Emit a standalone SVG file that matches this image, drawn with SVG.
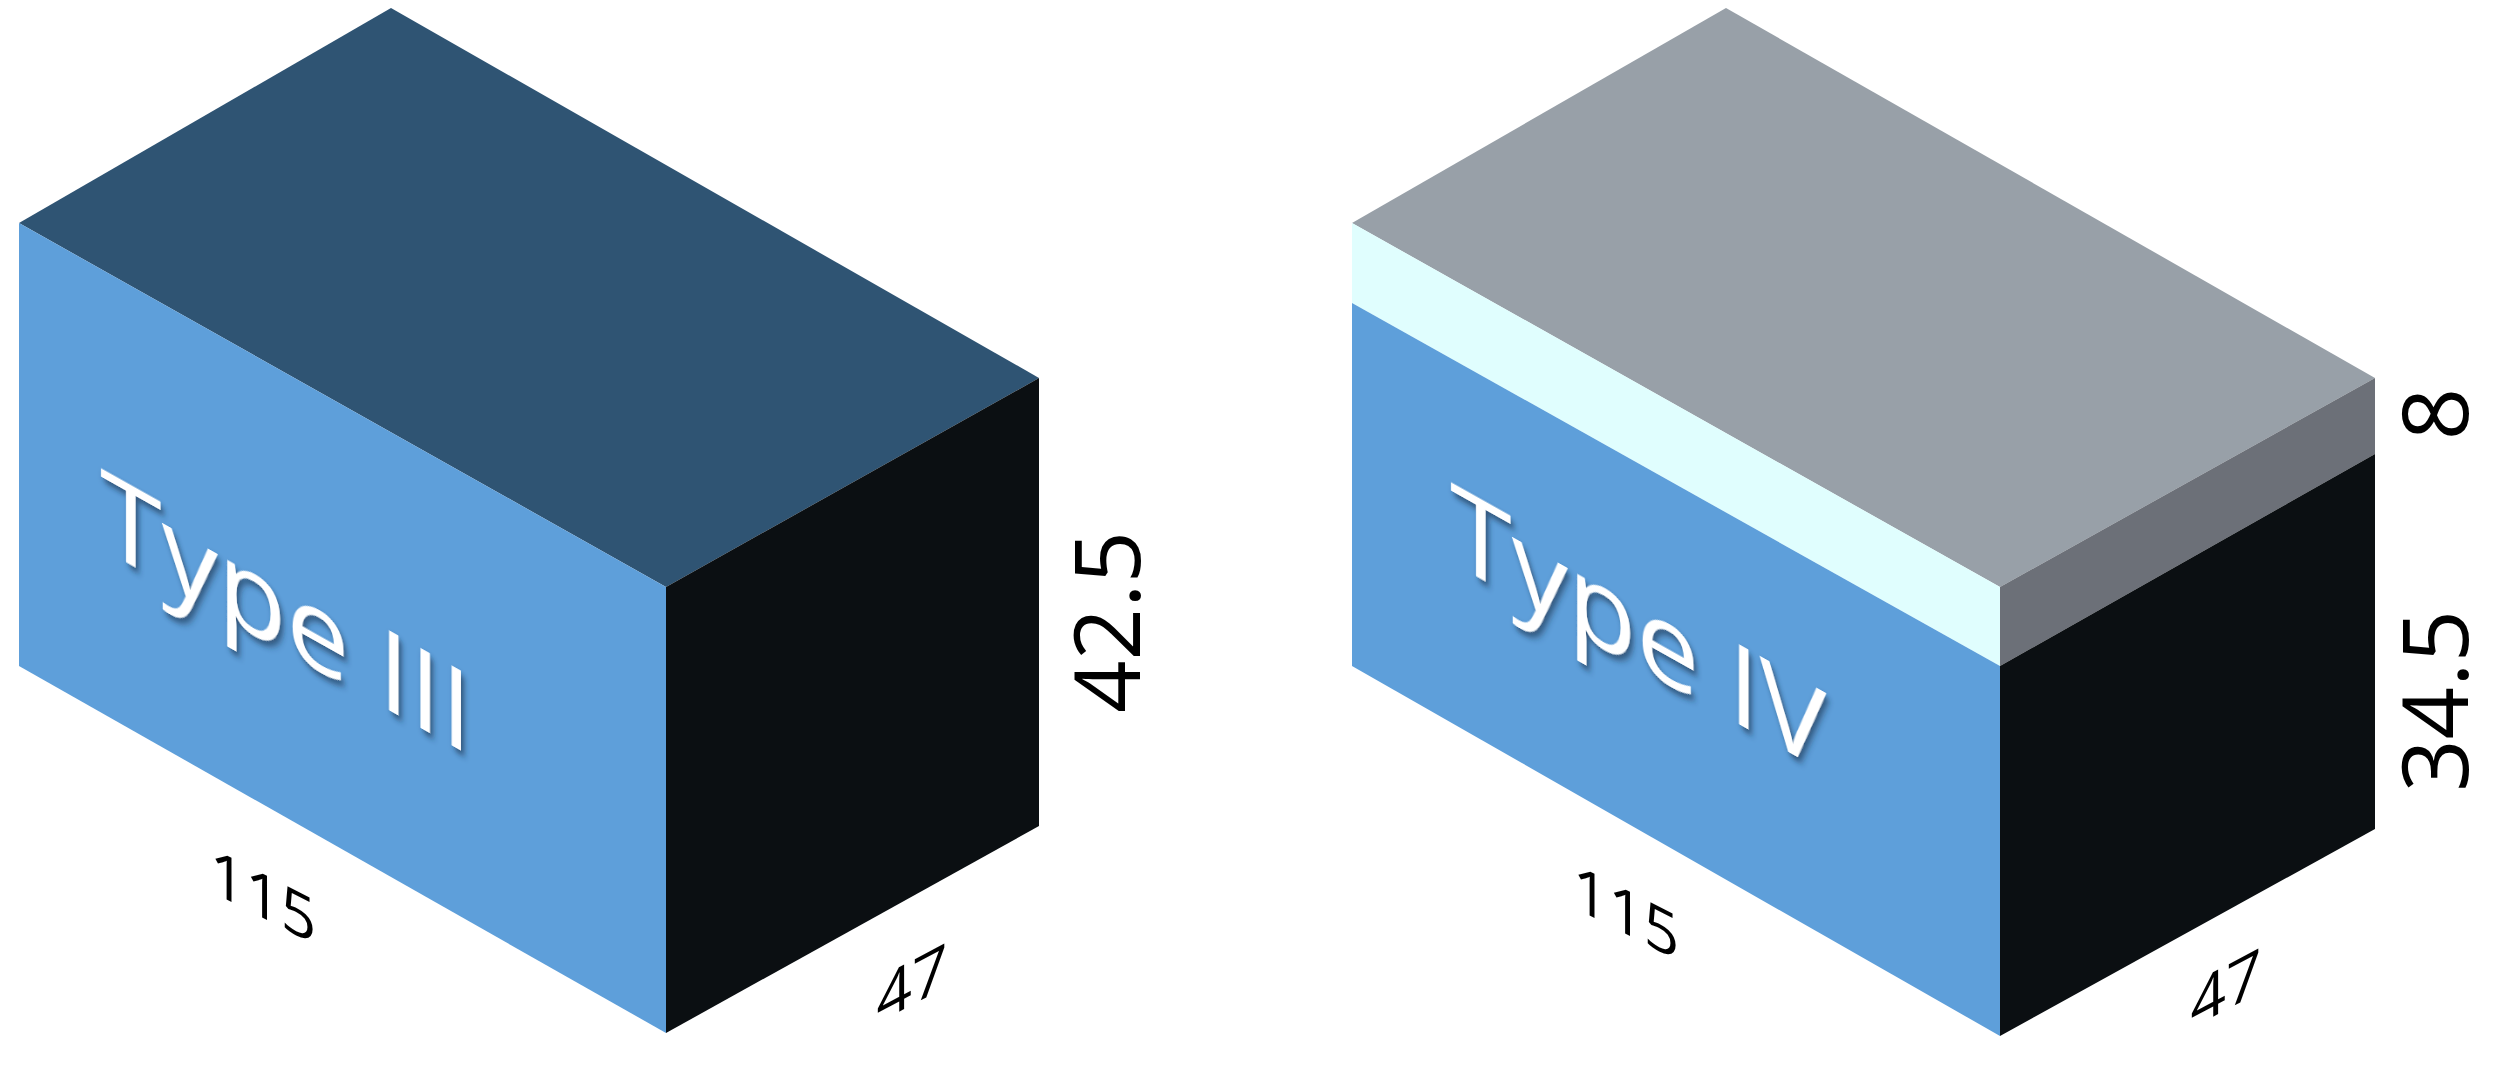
<svg xmlns="http://www.w3.org/2000/svg" width="2499" height="1071" viewBox="0 0 2499 1071">
<style>
.front{fill:#5E9FDA}.top3{fill:#2F5473}.side{fill:#0B0F12}.top4{fill:#98A0A8}.strip{fill:#E0FEFE}.sstrip{fill:#6C7078}
.lbl{font-family:"Open Sans",Lato,sans-serif;fill:#000}
.type{font-family:"Open Sans",Lato,sans-serif;fill:#fff;font-size:112px;font-weight:500;filter:url(#sh)}
</style>
<defs><filter id="sh" x="-10%" y="-10%" width="130%" height="130%"><feDropShadow dx="3" dy="4" stdDeviation="3" flood-color="#1a3550" flood-opacity="0.7"/></filter></defs>
<rect width="2499" height="1071" fill="#fff"/>
<g id="box3">
<polygon class="top3" points="391,8 1039,378 666,587 19,223"/>
<polygon class="front" points="19,223 666,587 666,1033 19,666"/>
<polygon class="side" points="666,587 1039,378 1039,826 666,1033"/>
<text class="type" transform="translate(100,548) skewY(29.3)">Type III</text>
<text class="lbl" font-size="62" text-anchor="middle" transform="translate(263,918) skewY(27)">115</text>
<text class="lbl" font-size="62" text-anchor="middle" transform="translate(912,1005) skewY(-28)">47</text>
<text class="lbl" font-size="92" font-weight="500" text-anchor="middle" transform="translate(1140,622) rotate(-90)">42.5</text>
</g>
<g id="box4">
<polygon class="top4" points="1726,8 2375,378 2000,587 1352,223"/>
<polygon class="strip" points="1352,223 2000,587 2000,666 1352,303"/>
<polygon class="front" points="1352,303 2000,666 2000,1036 1352,666"/>
<polygon class="sstrip" points="2000,587 2375,378 2375,454 2000,666"/>
<polygon class="side" points="2000,666 2375,454 2375,829 2000,1036"/>
<text class="type" transform="translate(1450,562) skewY(29.3)">Type IV</text>
<text class="lbl" font-size="62" text-anchor="middle" transform="translate(1626,934) skewY(27)">115</text>
<text class="lbl" font-size="62" text-anchor="middle" transform="translate(2226,1010) skewY(-28)">47</text>
<text class="lbl" font-size="92" font-weight="500" text-anchor="middle" transform="translate(2468,414) rotate(-90)">8</text>
<text class="lbl" font-size="92" font-weight="500" text-anchor="middle" transform="translate(2468,701) rotate(-90)">34.5</text>
</g>
</svg>
